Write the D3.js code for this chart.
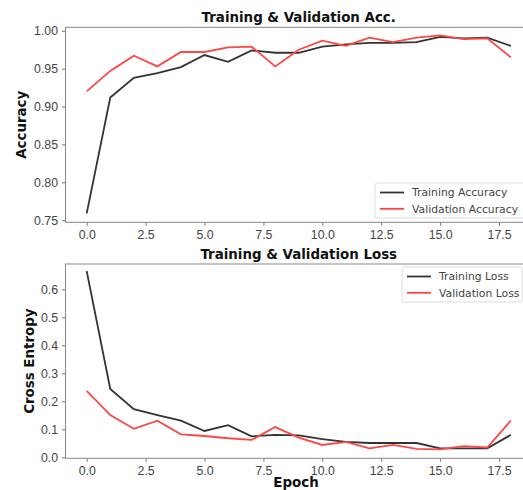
<!DOCTYPE html>
<html>
<head>
<meta charset="utf-8">
<script src="https://cdn.jsdelivr.net/npm/d3@7"></script>
<style>
  body { margin: 0; background: #fff; }
  svg { display: block; font-family: "DejaVu Sans", sans-serif; }
</style>
</head>
<body>
<div id="main"></div>
<script>
const epochs = d3.range(19);

const trainAcc = [0.759, 0.912, 0.938, 0.944, 0.952, 0.968, 0.959, 0.974, 0.971, 0.971,
  0.979, 0.982, 0.984, 0.984, 0.985, 0.992, 0.990, 0.991, 0.980];
const valAcc = [0.920, 0.947, 0.967, 0.953, 0.972, 0.972, 0.978, 0.979, 0.953, 0.975,
  0.987, 0.980, 0.991, 0.985, 0.991, 0.994, 0.989, 0.990, 0.965];

const trainLoss = [0.665, 0.244, 0.172, 0.151, 0.131, 0.094, 0.115, 0.075, 0.080, 0.078,
  0.065, 0.055, 0.051, 0.051, 0.051, 0.032, 0.032, 0.032, 0.080];
const valLoss = [0.237, 0.151, 0.102, 0.131, 0.082, 0.076, 0.068, 0.062, 0.108, 0.070,
  0.044, 0.055, 0.032, 0.044, 0.030, 0.028, 0.040, 0.035, 0.131];

const xTicks = [0, 2.5, 5, 7.5, 10, 12.5, 15, 17.5];
const accTicks = [0.75, 0.80, 0.85, 0.90, 0.95, 1.00];
const lossTicks = [0.0, 0.1, 0.2, 0.3, 0.4, 0.5, 0.6];

const width = 523, height = 490;
const svg = d3.select("#main").append("svg")
  .attr("width", width)
  .attr("height", height);

const x = d3.scaleLinear().domain([-0.9, 18.9]).range([65.5, 532]);

function drawPanel(opts) {
  const y = d3.scaleLinear().domain(opts.yDomain).range([opts.bottom, opts.top]);
  const g = svg.append("g");

  // x axis
  const xa = g.append("g")
    .attr("transform", `translate(0,${opts.bottom})`)
    .call(d3.axisBottom(x).tickValues(xTicks).tickSize(3.5).tickPadding(4)
      .tickFormat(d3.format(".1f")));
  // y axis
  const ya = g.append("g")
    .attr("transform", `translate(${x.range()[0]},0)`)
    .call(d3.axisLeft(y).tickValues(opts.yTicks).tickSize(3.5).tickPadding(4)
      .tickFormat(d3.format(opts.yFormat)));

  [xa, ya].forEach(a => {
    a.select(".domain").remove();
    a.selectAll(".tick line").attr("stroke", "#777");
    a.selectAll(".tick text")
      .attr("fill", "#444")
      .style("font-size", "12.3px");
  });

  const line = d3.line().x((d, i) => x(epochs[i])).y(d => y(d));

  g.append("path").datum(opts.train)
    .attr("fill", "none").attr("stroke", "#333").attr("stroke-width", 1.8)
    .attr("d", line);
  g.append("path").datum(opts.val)
    .attr("fill", "none").attr("stroke", "#ff4545").attr("stroke-width", 1.8)
    .attr("d", line);

  // frame
  g.append("rect")
    .attr("x", x.range()[0]).attr("y", opts.top)
    .attr("width", x.range()[1] - x.range()[0])
    .attr("height", opts.bottom - opts.top)
    .attr("fill", "none").attr("stroke", "#888").attr("stroke-width", 1);

  // title
  g.append("text")
    .attr("x", (x.range()[0] + x.range()[1]) / 2)
    .attr("y", opts.top - 5)
    .attr("text-anchor", "middle")
    .attr("font-weight", "bold")
    .style("font-size", "13.4px")
    .attr("fill", "#111")
    .text(opts.title);

  // y label
  g.append("text")
    .attr("transform", `translate(${opts.yLabelX},${(opts.top + opts.bottom) / 2}) rotate(-90)`)
    .attr("text-anchor", "middle")
    .attr("font-weight", "bold")
    .style("font-size", "13.4px")
    .attr("fill", "#111")
    .text(opts.yLabel);

  // legend
  const lg = g.append("g").attr("transform", `translate(${opts.legend.x},${opts.legend.y})`);
  lg.append("rect")
    .attr("width", opts.legend.w).attr("height", 35).attr("rx", 2)
    .attr("fill", "#fff").attr("stroke", "#ddd");
  [[opts.legend.labels[0], "#333"], [opts.legend.labels[1], "#ff4545"]].forEach((e, i) => {
    const yy = 9.5 + i * 16.3;
    lg.append("line")
      .attr("x1", 5).attr("x2", 29).attr("y1", yy).attr("y2", yy)
      .attr("stroke", e[1]).attr("stroke-width", 1.8);
    lg.append("text")
      .attr("x", 37).attr("y", yy).attr("dy", "0.35em")
      .style("font-size", "10.8px")
      .attr("fill", "#444")
      .text(e[0]);
  });
}

drawPanel({
  top: 27.3, bottom: 222.3,
  yDomain: [0.7472, 1.0046],
  yTicks: accTicks, yFormat: ".2f",
  train: trainAcc, val: valAcc,
  title: "Training & Validation Acc.",
  yLabel: "Accuracy", yLabelX: 26,
  legend: { x: 375, y: 183, w: 150, labels: ["Training Accuracy", "Validation Accuracy"] }
});

drawPanel({
  top: 264, bottom: 458.3,
  yDomain: [-0.0036, 0.6904],
  yTicks: lossTicks, yFormat: ".1f",
  train: trainLoss, val: valLoss,
  title: "Training & Validation Loss",
  yLabel: "Cross Entropy", yLabelX: 34,
  legend: { x: 402, y: 267, w: 120, labels: ["Training Loss", "Validation Loss"] }
});

svg.append("text")
  .attr("x", 296).attr("y", 487)
  .attr("text-anchor", "middle")
  .attr("font-weight", "bold")
  .style("font-size", "13.4px")
  .attr("fill", "#111")
  .text("Epoch");
</script>
</body>
</html>
